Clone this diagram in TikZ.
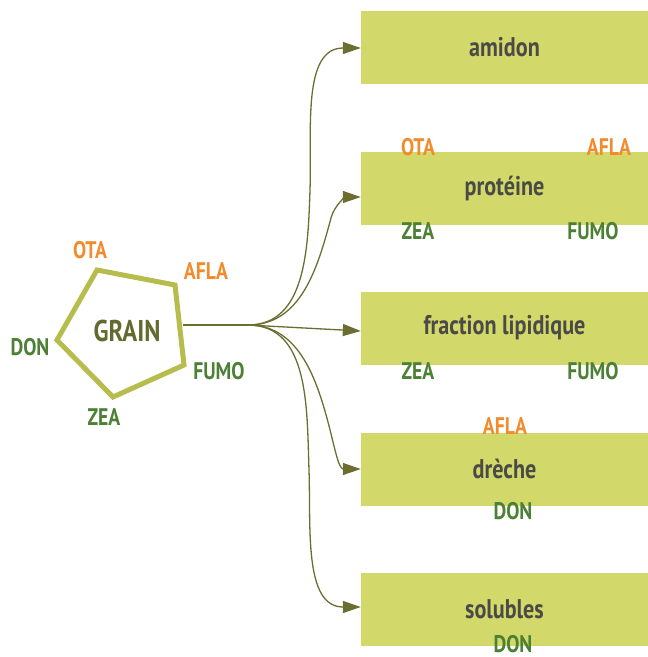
\documentclass[tikz,border=0pt]{standalone}
\usepackage{fontspec}
\setmainfont{PT Sans}[FakeStretch=0.82]
\usetikzlibrary{arrows.meta}
\definecolor{boxfill}{HTML}{D3D86A}
\definecolor{pentaline}{HTML}{B6BD4C}
\definecolor{linkcol}{HTML}{6B6E30}
\definecolor{toxorange}{HTML}{F18B2C}
\definecolor{toxgreen}{HTML}{4C8034}
\definecolor{graincol}{HTML}{636A30}
\definecolor{boxtext}{HTML}{4A4A46}
\tikzset{
  fraction/.style={fill=boxfill, minimum width=287pt, minimum height=73pt, inner sep=0pt,
    text=boxtext, font=\bfseries\fontsize{27}{29}\selectfont},
  toxo/.style={text=toxorange, inner sep=0pt, font=\bfseries\fontsize{24}{26}\selectfont},
  toxg/.style={text=toxgreen, inner sep=0pt, font=\bfseries\fontsize{24}{26}\selectfont},
  link/.style={draw=linkcol, line width=1.3pt, -{Triangle[length=18pt,width=12pt]}},
}
\begin{document}
\begin{tikzpicture}[x=1pt,y=-1pt]
\useasboundingbox (0,0) rectangle (648,657);

% grain pentagon
\coordinate (pa) at (97,270);
\coordinate (pb) at (175,285);
\coordinate (pc) at (184,365);
\coordinate (pd) at (113,397);
\coordinate (pe) at (57,340);
\draw[pentaline, line width=5pt, line join=miter] (pa) -- (pb) -- (pc) -- (pd) -- (pe) -- cycle;
\node[text=graincol, inner sep=0pt, font=\bfseries\fontsize{30}{32}\selectfont] (grain) at (127,331) {GRAIN};
\node[toxo] (gota) at (90,250) {OTA};
\node[toxo] (gafla) at (206,271) {AFLA};
\node[toxg] (gdon) at (30,347) {DON};
\node[toxg] (gfumo) at (219,371) {FUMO};
\node[toxg] (gzea) at (104,417) {ZEA};

% fractions
\node[fraction] (amidon) at (504.5,47) {amidon};
\node[fraction] (proteine) at (504.5,188) {protéine};
\node[fraction] (lipid) at (504.5,328) {fraction lipidique};
\node[fraction] (dreche) at (504.5,469) {drèche};
\node[fraction] (solubles) at (504.5,609) {solubles};

% toxins carried into each fraction
\node[toxo] (pota) at (418,147) {OTA};
\node[toxo] (pafla) at (609,147) {AFLA};
\node[toxg] (pzea) at (418,231) {ZEA};
\node[toxg] (pfumo) at (593,231) {FUMO};
\node[toxg] (lzea) at (418,371) {ZEA};
\node[toxg] (lfumo) at (593,371) {FUMO};
\node[toxo] (dafla) at (505,426) {AFLA};
\node[toxg] (ddon) at (513,511) {DON};
\node[toxg] (sdon) at (513,644) {DON};

% branching connectors
\coordinate (gout) at (183,325);
\coordinate (branch) at (248,325);
\draw[linkcol, line width=1.3pt] (gout) -- (branch);
\draw[link] (branch) to[out=0,in=-92] (310,190) to[out=88,in=180] ([yshift=-1pt]amidon.west);
\draw[link] (branch) to[out=0,in=-105] (331,218) to[out=75,in=180] ([yshift=-9pt]proteine.west);
\draw[link] (branch) -- ([yshift=-3pt]lipid.west);
\draw[link] (branch) to[out=0,in=105] (328,422) to[out=-75,in=180] (dreche.west);
\draw[link] (branch) to[out=0,in=92] (309,470) to[out=-88,in=180] ([yshift=2pt]solubles.west);
\end{tikzpicture}
\end{document}
